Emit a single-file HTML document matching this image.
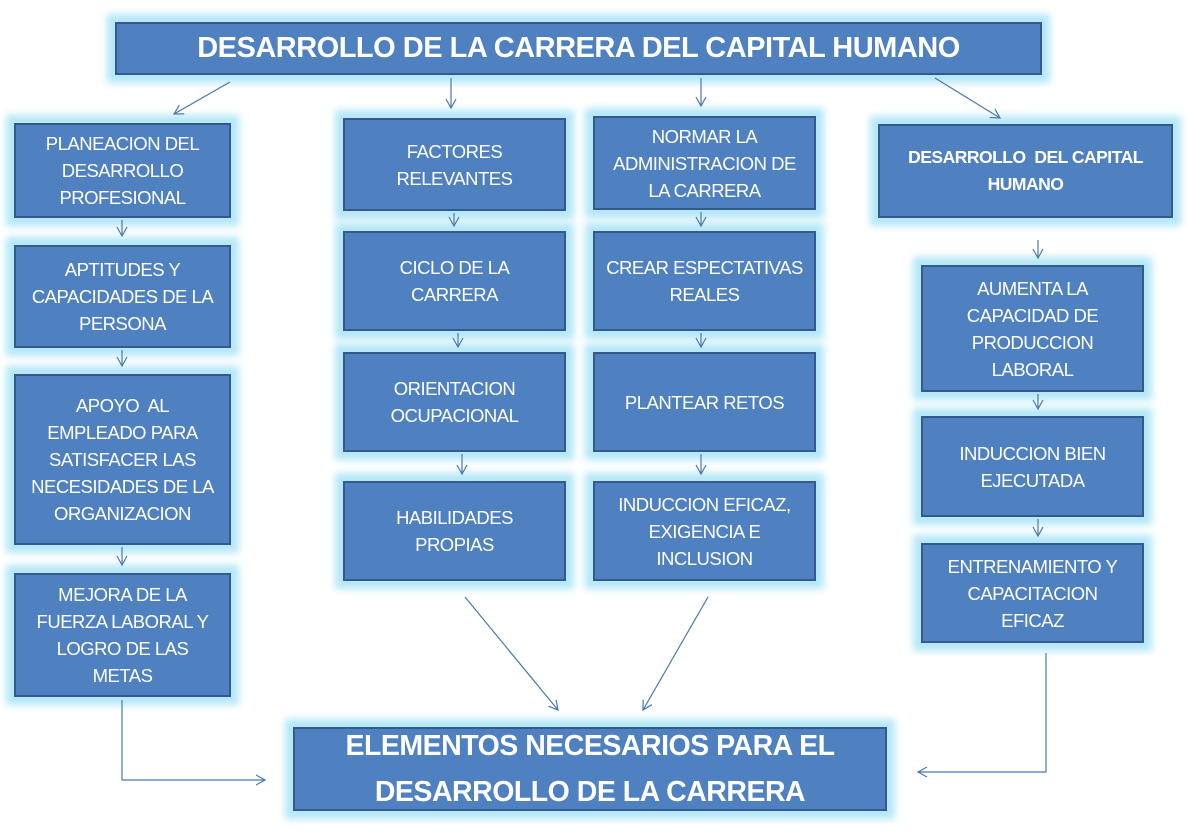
<!DOCTYPE html>
<html><head><meta charset="utf-8"><style>
body{margin:0;width:1187px;height:839px;background:#fff;position:relative;overflow:hidden;font-family:"Liberation Sans",sans-serif}
.b{position:absolute;box-sizing:border-box;background:#4f80bf;border:2px solid #34598c;color:#fff;display:flex;align-items:center;justify-content:center;text-align:center;font-size:18.5px;line-height:27px;box-shadow:0 0 7px 8px rgba(160,225,245,0.8);letter-spacing:-0.5px}
.t{font-weight:bold;font-size:29px}
.e{font-weight:bold;font-size:28.5px;line-height:46px}
svg{position:absolute;left:0;top:0}
</style></head><body>
<div class="b t" style="left:115px;top:22px;width:927px;height:53px">DESARROLLO DE LA CARRERA DEL CAPITAL HUMANO</div>

<div class="b" style="left:14px;top:123px;width:217px;height:95px">PLANEACION DEL<br>DESARROLLO<br>PROFESIONAL</div>
<div class="b" style="left:14px;top:245px;width:217px;height:103px">APTITUDES Y<br>CAPACIDADES DE LA<br>PERSONA</div>
<div class="b" style="left:14px;top:374px;width:217px;height:171px">APOYO&nbsp; AL<br>EMPLEADO PARA<br>SATISFACER LAS<br>NECESIDADES DE LA<br>ORGANIZACION</div>
<div class="b" style="left:14px;top:573px;width:217px;height:124px">MEJORA DE LA<br>FUERZA LABORAL Y<br>LOGRO DE LAS<br>METAS</div>

<div class="b" style="left:343px;top:118px;width:223px;height:93px">FACTORES<br>RELEVANTES</div>
<div class="b" style="left:343px;top:231px;width:223px;height:100px">CICLO DE LA<br>CARRERA</div>
<div class="b" style="left:343px;top:352px;width:223px;height:100px">ORIENTACION<br>OCUPACIONAL</div>
<div class="b" style="left:343px;top:481px;width:223px;height:100px">HABILIDADES<br>PROPIAS</div>

<div class="b" style="left:593px;top:116px;width:223px;height:94px">NORMAR LA<br>ADMINISTRACION DE<br>LA CARRERA</div>
<div class="b" style="left:593px;top:231px;width:223px;height:100px">CREAR ESPECTATIVAS<br>REALES</div>
<div class="b" style="left:593px;top:352px;width:223px;height:100px">PLANTEAR RETOS</div>
<div class="b" style="left:593px;top:481px;width:223px;height:100px">INDUCCION EFICAZ,<br>EXIGENCIA E<br>INCLUSION</div>

<div class="b" style="left:878px;top:124px;width:295px;height:94px;font-weight:bold;font-size:17.5px">DESARROLLO&nbsp; DEL CAPITAL<br>HUMANO</div>
<div class="b" style="left:921px;top:265px;width:223px;height:127px">AUMENTA LA<br>CAPACIDAD DE<br>PRODUCCION<br>LABORAL</div>
<div class="b" style="left:921px;top:416px;width:223px;height:101px">INDUCCION BIEN<br>EJECUTADA</div>
<div class="b" style="left:921px;top:543px;width:223px;height:100px">ENTRENAMIENTO Y<br>CAPACITACION<br>EFICAZ</div>

<div class="b e" style="left:293px;top:727px;width:594px;height:84px">ELEMENTOS NECESARIOS PARA EL<br>DESARROLLO DE LA CARRERA</div>

<svg width="1187" height="839" fill="none" stroke="#4a78b0" stroke-width="1.2">
<defs><marker id="a" markerWidth="12" markerHeight="12" refX="10" refY="6" orient="auto" markerUnits="userSpaceOnUse"><path d="M1,1 L10,6 L1,11" stroke="#4a78b0" fill="none" stroke-width="1.2"/></marker></defs>
<g marker-end="url(#a)">
<line x1="230" y1="82" x2="174" y2="114"/>
<line x1="451" y1="78" x2="451" y2="108"/>
<line x1="701" y1="78" x2="701" y2="106"/>
<line x1="935" y1="78" x2="1000" y2="118"/>
<line x1="122" y1="220" x2="122" y2="236"/>
<line x1="122" y1="350" x2="122" y2="366"/>
<line x1="122" y1="547" x2="122" y2="565"/>
<line x1="454" y1="213" x2="454" y2="226"/>
<line x1="458" y1="333" x2="458" y2="347"/>
<line x1="462" y1="454" x2="462" y2="474"/>
<line x1="701" y1="212" x2="701" y2="226"/>
<line x1="701" y1="333" x2="701" y2="347"/>
<line x1="701" y1="454" x2="701" y2="474"/>
<line x1="1038" y1="240" x2="1038" y2="258"/>
<line x1="1038" y1="394" x2="1038" y2="409"/>
<line x1="1038" y1="519" x2="1038" y2="536"/>
<line x1="465" y1="597" x2="558" y2="710"/>
<line x1="708" y1="597" x2="643" y2="710"/>
<polyline points="122,700 122,780 265,780"/>
<polyline points="1046,653 1046,772 918,772"/>
</g>
</svg>
</body></html>
